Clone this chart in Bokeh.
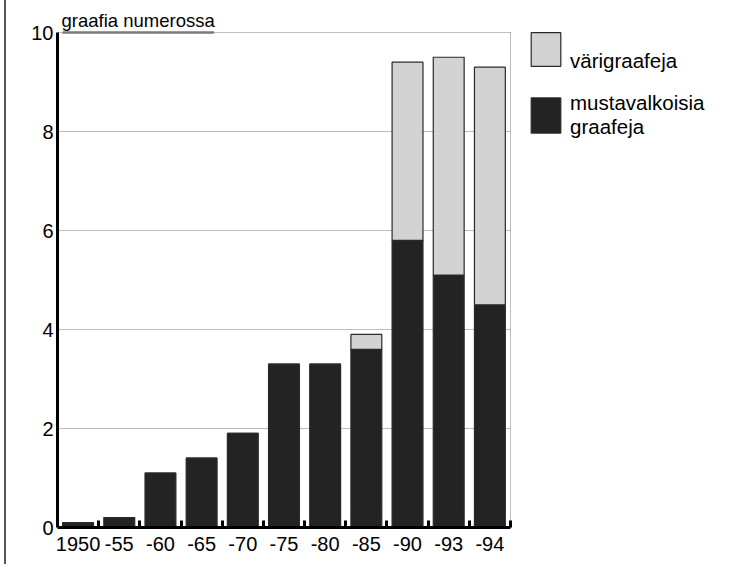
from bokeh.plotting import figure
from bokeh.models import (ColumnDataSource, FixedTicker, Legend, LegendItem, Label, Range1d)
from bokeh.embed import file_html
from bokeh.resources import INLINE

# ---- data ----
categories = ["1950", "-55", "-60", "-65", "-70", "-75", "-80", "-85", "-90", "-93", "-94"]
black_white = [0.1, 0.2, 1.1, 1.4, 1.9, 3.3, 3.3, 3.6, 5.8, 5.1, 4.5]
colour = [0.0, 0.0, 0.0, 0.0, 0.0, 0.0, 0.0, 0.3, 3.6, 4.4, 4.8]
y_ticks = [0, 2, 4, 6, 8, 10]

FONT = "Liberation Sans"
BLACK = "#232323"
GRAY = "#d3d3d3"
GRID = "#7a7a7a"

n = len(categories)
ymax = y_ticks[-1]
xs = [i + 0.5 for i in range(n)]
src = ColumnDataSource(dict(x=xs, bw=black_white, col=colour))

# frame extends beyond the axes so the unit label and legend are not clipped
p = figure(width=732, height=564, output_backend="svg", toolbar_location=None,
           x_range=Range1d(0, n + 5.27), y_range=Range1d(0, ymax + 0.485),
           min_border_left=57, min_border_right=5, min_border_top=8, min_border_bottom=37)
p.outline_line_color = None
p.background_fill_color = "white"
p.border_fill_alpha = 0
# thin frame line along the left edge of the picture (as in the scanned original)
p.styles = {"background": "linear-gradient(to right, white 4px, #555 4px, #555 6px, white 6px)"}
p.xgrid.visible = False
p.ygrid.visible = False

# grid lines (only across the plotting area) and the dotted right border
p.segment(x0=0, x1=n, y0=y_ticks, y1=y_ticks, line_color=GRID, line_dash="1 1",
          line_width=1, level="underlay")
p.segment(x0=n, x1=n, y0=0, y1=ymax, line_color=GRID, line_dash="1 1",
          line_width=1, level="underlay")

r = p.vbar_stack(["bw", "col"], x="x", width=0.75, source=src,
                 fill_color=[BLACK, GRAY], line_color="#2a2a2a", line_width=1.2)

# y axis
p.yaxis.ticker = FixedTicker(ticks=y_ticks)
p.yaxis.bounds = (0, ymax)
p.yaxis.axis_line_width = 3
p.yaxis.axis_line_color = "black"
p.yaxis.major_tick_out = 0
p.yaxis.major_tick_in = 0
p.yaxis.minor_tick_out = 0
p.yaxis.minor_tick_in = 0
p.yaxis.major_label_standoff = 4
p.yaxis.major_label_text_font = FONT
p.yaxis.major_label_text_font_size = "20px"
p.yaxis.major_label_text_color = "black"

# x axis
p.xaxis.ticker = FixedTicker(ticks=xs, minor_ticks=[i + 1 for i in range(n)])
p.xaxis.bounds = (0, n)
p.xaxis.major_label_overrides = {x: c for x, c in zip(xs, categories)}
p.xaxis.axis_line_width = 3
p.xaxis.axis_line_color = "black"
p.xaxis.major_tick_out = 0
p.xaxis.major_tick_in = 0
p.xaxis.minor_tick_out = 0
p.xaxis.minor_tick_in = 7
p.xaxis.minor_tick_line_width = 3
p.xaxis.minor_tick_line_color = "black"
p.xaxis.major_label_standoff = 9
p.xaxis.major_label_text_font = FONT
p.xaxis.major_label_text_font_size = "20px"
p.xaxis.major_label_text_color = "black"

# unit label at the top of the y axis, with its underline
title = Label(x=0, y=ymax, x_offset=4, y_offset=2, text="graafia numerossa",
              text_font=FONT, text_font_size="18.5px", text_color="black",
              text_baseline="bottom", text_align="left")
p.add_layout(title)
p.line(x=[0.12, 3.8], y=[ymax, ymax], line_color="#7a7a7a", line_width=2.5)


def make_legend(label, renderer, loc, glyph_h, line_h):
    lg = Legend(items=[LegendItem(label=label, renderers=[renderer])],
                location=loc, orientation="vertical")
    lg.glyph_width = 37
    lg.glyph_height = glyph_h
    lg.label_height = glyph_h
    lg.padding = 0
    lg.margin = 0
    lg.border_line_color = None
    lg.background_fill_alpha = 0
    lg.label_text_font = FONT
    lg.label_text_font_size = "20.5px"
    lg.label_text_color = "black"
    lg.label_text_line_height = line_h
    lg.label_standoff = 6
    return lg


# the colour label sits at the lower edge of its swatch, as in the original
p.add_layout(make_legend("\nvärigraafeja", r[1], (470, 454), 42, 1.0))
p.add_layout(make_legend("mustavalkoisia\ngraafeja", r[0], (470, 388), 44, 1.25))

open("out.html", "w").write(file_html(p, INLINE))
